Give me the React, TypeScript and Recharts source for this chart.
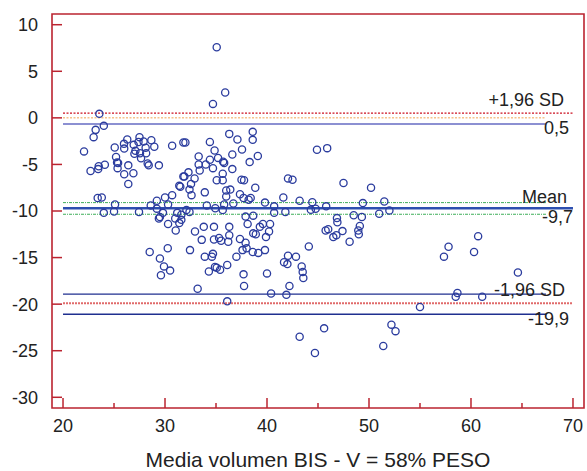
import React from "react";
import {
  ScatterChart,
  Scatter,
  XAxis,
  YAxis,
  ReferenceLine,
  ReferenceArea,
} from "recharts";

// mean of the two methods vs. difference (Bland-Altman)
const points: [number, number][] = [
  [23.56, 0.43], [24.0, -0.86], [23.2, -1.29], [23.0, -2.07], [22.06, -3.6],
  [25.07, -3.19], [25.98, -2.79], [26.3, -2.33], [26.0, -3.3], [26.93, -2.9],
  [27.5, -2.07], [27.4, -2.6], [27.9, -2.54], [28.66, -2.4], [28.95, -3.11],
  [28.1, -3.2], [27.1, -3.54], [27.55, -3.8], [27.0, -3.86], [28.15, -3.8],
  [27.65, -4.33], [28.3, -4.9], [28.4, -5.1], [29.4, -5.1], [30.7, -3.0],
  [31.8, -2.65], [25.2, -4.2], [25.3, -4.8], [25.4, -4.85], [25.35, -5.4],
  [26.4, -5.1], [24.1, -5.04], [23.5, -5.2], [23.45, -5.5], [22.7, -5.7],
  [26.0, -6.05], [26.9, -5.95], [26.4, -7.1], [31.8, -6.3], [31.4, -7.3],
  [23.4, -8.6], [23.8, -8.55], [25.1, -9.3], [24.0, -10.2], [25.0, -10.05],
  [27.45, -10.1], [28.6, -9.4], [29.2, -8.9], [30.0, -8.55], [30.7, -8.3],
  [29.2, -9.75], [29.8, -10.2], [29.5, -10.65], [31.2, -10.2], [31.6, -10.4],
  [30.3, -9.3],
  [29.4, -10.8], [30.3, -11.4], [31.0, -10.8], [31.4, -11.3], [31.6, -10.95],
  [31.05, -12.1], [30.27, -14.0], [28.5, -14.4], [29.5, -15.1], [29.9, -15.95],
  [30.5, -16.4], [29.6, -16.9],
  [35.07, 7.58], [35.9, 2.72], [34.7, 1.5], [36.3, -1.72], [37.1, -2.33],
  [38.6, -1.5], [38.6, -2.36], [34.4, -2.58], [32.0, -2.65], [34.86, -3.5],
  [37.55, -3.4], [36.6, -3.93], [39.1, -4.1], [38.3, -4.75], [33.3, -4.15],
  [34.4, -4.5], [35.2, -4.3], [35.7, -4.7], [35.8, -4.85], [33.3, -5.0],
  [34.0, -5.0], [33.4, -5.65], [34.7, -5.4], [36.6, -5.5], [35.66, -6.0],
  [35.07, -6.7], [35.66, -6.7], [31.9, -6.3], [32.3, -5.85], [32.9, -6.5],
  [32.55, -7.1], [32.4, -7.7], [32.6, -8.3], [31.5, -7.4], [37.5, -6.65],
  [37.75, -6.7], [38.85, -7.5], [33.9, -8.0], [36.0, -7.8], [36.4, -7.7],
  [36.0, -8.45], [37.35, -8.2], [37.7, -8.6], [38.2, -8.8], [38.4, -8.6],
  [36.7, -9.2], [35.8, -9.3], [34.1, -9.4], [34.93, -9.7], [35.66, -9.9],
  [32.1, -9.9], [32.4, -10.1], [39.8, -9.1], [40.7, -9.5], [41.6, -8.55],
  [42.06, -6.5], [42.5, -6.65], [43.2, -8.9], [41.8, -10.1], [40.7, -10.2],
  [37.9, -10.6], [38.65, -10.5],
  [32.94, -12.2], [33.8, -11.7], [34.8, -11.7], [36.3, -11.7], [33.6, -13.1],
  [34.8, -13.06], [35.3, -12.9], [35.5, -13.2], [36.2, -13.3], [36.3, -12.6],
  [37.35, -13.0], [37.9, -13.4], [38.1, -11.4], [38.65, -12.4], [38.9, -12.5],
  [39.3, -11.7], [39.6, -11.4], [40.3, -11.4], [40.2, -12.2], [39.9, -12.8],
  [32.45, -14.2], [33.9, -14.9], [34.6, -14.9], [34.7, -14.6], [37.0, -14.9],
  [37.6, -14.2], [38.0, -14.0], [38.6, -14.4], [39.15, -14.5], [39.8, -14.2],
  [36.1, -15.8], [34.3, -16.5], [35.07, -16.1], [35.4, -16.3], [34.9, -16.0],
  [37.7, -16.8], [40.0, -16.7], [33.2, -18.35], [37.75, -18.06], [40.4, -18.85],
  [36.1, -19.7], [41.9, -19.0], [42.2, -18.06], [42.06, -14.8], [41.67, -15.5],
  [42.0, -15.7], [42.84, -14.9], [43.4, -15.95], [43.5, -16.55], [43.56, -17.2],
  [44.1, -13.8],
  [44.9, -3.43], [45.9, -3.25], [47.5, -7.0], [50.2, -7.5], [44.44, -9.05],
  [44.3, -9.87], [44.77, -9.76], [45.8, -9.5], [49.4, -9.15], [51.5, -8.98],
  [52.0, -9.95], [51.0, -10.3], [48.5, -10.45], [49.3, -10.65], [46.86, -10.76],
  [46.9, -11.2], [45.75, -12.1], [46.0, -11.95], [47.4, -12.16], [46.5, -12.8],
  [46.8, -12.6], [48.1, -13.3], [48.95, -12.1], [49.1, -11.6], [49.0, -12.5],
  [55.0, -20.3], [52.2, -22.2], [52.6, -22.9], [51.4, -24.5], [45.6, -22.6],
  [43.2, -23.5], [44.7, -25.25],
  [57.8, -13.84], [57.35, -14.9], [60.7, -12.7], [60.3, -14.4], [64.6, -16.6],
  [58.67, -18.8], [58.5, -19.2], [61.1, -19.2],
];

const xTicks = [20, 25, 30, 35, 40, 45, 50, 55, 60, 65, 70];
const yTicks = [-30, -25, -20, -15, -10, -5, 0, 5, 10];

// limits of agreement and their confidence intervals
const meanDiff = -9.7;
const upperLimit = 0.5;
const lowerLimit = -19.9;
const meanCI = [-9.1, -10.35];
const upperCI = [-0.65];
const lowerCI = [-18.92, -21.08];
const lineStart = 20;
const lineEnd = 70;
const ciEnd = 67.35;

const FONT = "'Liberation Sans', Arial, Helvetica, sans-serif";
const FRAME = "#bb2430";
const TEXT = "#222";

const data = points.map(([x, y]) => ({ x, y }));

function XTick({ x, y, payload }: any) {
  const v = payload.value;
  const major = v % 10 === 0;
  return (
    <g>
      <line x1={x} y1={y} x2={x} y2={y - (major ? 10 : 5)} stroke={FRAME} strokeWidth={1.5} />
      {major && (
        <text x={x} y={y + 24} textAnchor="middle" fontSize={18} fill={TEXT} fontFamily={FONT}>
          {v}
        </text>
      )}
    </g>
  );
}

function YTick({ x, y, payload }: any) {
  return (
    <g>
      <line x1={x} y1={y} x2={x + 10} y2={y} stroke={FRAME} strokeWidth={1.5} />
      <text x={x - 14} y={y} dy="0.36em" textAnchor="end" fontSize={18} fill={TEXT} fontFamily={FONT}>
        {payload.value}
      </text>
    </g>
  );
}

function EndLabel({ viewBox, above, below, dxAbove, dxBelow, dyAbove, dyBelow }: any) {
  if (!viewBox) return null;
  const xe = viewBox.x + viewBox.width;
  const y = viewBox.y;
  return (
    <g fontFamily={FONT} fontSize={18} fill={TEXT}>
      <text x={xe + dxAbove} y={y + dyAbove} textAnchor="end">{above}</text>
      <text x={xe + dxBelow} y={y + dyBelow} textAnchor="end">{below}</text>
    </g>
  );
}

const seg = (y: number, end: number) => [
  { x: lineStart, y },
  { x: end, y },
];

export default function App() {
  return (
    <div style={{ position: "absolute", left: 0, top: 0, width: 587, height: 471, background: "#fff" }}>
      <ScatterChart width={587} height={471} margin={{ top: 14, right: 3, bottom: 0, left: 0 }}>
        <XAxis
          type="number"
          dataKey="x"
          domain={[18.92, 71.08]}
          ticks={xTicks}
          allowDataOverflow
          axisLine={false}
          tickLine={false}
          tickSize={0}
          tickMargin={0}
          tick={<XTick />}
          height={63}
          label={{
            value: "Media volumen BIS - V = 58% PESO",
            position: "insideBottom",
            offset: 4,
            fill: TEXT,
            fontSize: 21,
            fontFamily: FONT,
          }}
        />
        <YAxis
          type="number"
          dataKey="y"
          domain={[-31.15, 11.15]}
          ticks={yTicks}
          allowDataOverflow
          axisLine={false}
          tickLine={false}
          tickSize={0}
          tickMargin={0}
          tick={<YTick />}
          width={52}
        />
        <ReferenceArea
          x1={18.92}
          x2={71.08}
          y1={-31.15}
          y2={11.15}
          fill="none"
          stroke={FRAME}
          strokeWidth={1.6}
          ifOverflow="visible"
        />
        <ReferenceLine segment={seg(0, ciEnd)} stroke="#f2a250" strokeWidth={1} strokeDasharray="2 1.5" />
        <ReferenceLine segment={seg(upperCI[0], ciEnd)} stroke="#8c90d2" strokeWidth={2} />
        <ReferenceLine
          segment={seg(upperLimit, lineEnd)}
          stroke="#cc1020"
          strokeWidth={1.2}
          strokeDasharray="2 1.5"
          label={<EndLabel above="+1,96 SD" below="0,5" dxAbove={-9} dxBelow={-4} dyAbove={-7} dyBelow={21} />}
        />
        <ReferenceLine segment={seg(meanCI[0], ciEnd)} stroke="#3fae5a" strokeWidth={1} strokeDasharray="3 1 1 1" />
        <ReferenceLine segment={seg(meanCI[1], ciEnd)} stroke="#3fae5a" strokeWidth={1} strokeDasharray="3 1 1 1" />
        <ReferenceLine
          segment={seg(meanDiff, lineEnd)}
          stroke="#2d4fb0"
          strokeWidth={2.4}
          label={<EndLabel above="Mean" below="-9,7" dxAbove={-6} dxBelow={0} dyAbove={-5} dyBelow={15} />}
        />
        <ReferenceLine segment={seg(lowerCI[0], ciEnd)} stroke="#1f2f8f" strokeWidth={1.4} />
        <ReferenceLine segment={seg(lowerCI[1], ciEnd)} stroke="#1f2f8f" strokeWidth={1.4} />
        <ReferenceLine
          segment={seg(lowerLimit, lineEnd)}
          stroke="#e06a6a"
          strokeWidth={2}
          strokeDasharray="2 1"
          label={<EndLabel above="-1,96 SD" below="-19,9" dxAbove={-8} dxBelow={-4} dyAbove={-7} dyBelow={22} />}
        />
        <Scatter
          data={data}
          isAnimationActive={false}
          shape={(p: any) => (
            <circle cx={p.cx} cy={p.cy} r={3.6} fill="none" stroke="#2b3c9e" strokeWidth={1.3} />
          )}
        />
      </ScatterChart>
    </div>
  );
}
